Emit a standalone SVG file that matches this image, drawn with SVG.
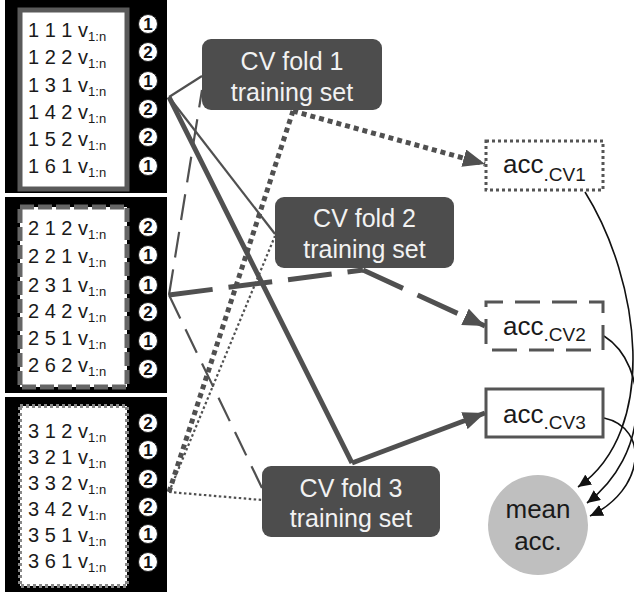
<svg xmlns="http://www.w3.org/2000/svg" width="634" height="592" viewBox="0 0 634 592">
<style>
.panel{fill:#000}
.row{font-family:"Liberation Sans",Arial,sans-serif;font-size:20px;fill:#1a1a1a}
.sub{font-size:13px}
.num circle{fill:#fff;stroke:#222;stroke-width:1}
.num text{font-family:"Liberation Sans",Arial,sans-serif;font-size:17px;font-weight:bold;fill:#111;text-anchor:middle}
.fold rect{fill:#4d4d4d}
.fold text{font-family:"Liberation Sans",Arial,sans-serif;font-size:25px;fill:#f2f2f2;text-anchor:middle}
.acc rect{fill:#fff;stroke:#555;stroke-width:3}
.acc text{font-family:"Liberation Sans",Arial,sans-serif;font-size:26px;fill:#1a1a1a}
.acc tspan{font-size:19px}
.c{fill:none;stroke:#505050;stroke-linecap:butt}
.thin{stroke-width:2.2}
.thick{stroke-width:5}
.curve{fill:none;stroke:#111;stroke-width:1.6}
</style>
<defs>
<marker id="big" markerUnits="userSpaceOnUse" markerWidth="24" markerHeight="18" refX="22" refY="9" orient="auto">
<path d="M0,0 L22,9 L0,18 Z" fill="#505050"/>
</marker>
<marker id="small" markerUnits="userSpaceOnUse" markerWidth="14" markerHeight="12" refX="13" refY="6" orient="auto">
<path d="M0,0 L13,6 L0,12 Z" fill="#111"/>
</marker>
</defs>

<g id="connectors">
<line class="c thin" x1="169" y1="97" x2="202" y2="76"/>
<line class="c thin" x1="169" y1="97" x2="275" y2="234"/>
<line class="c thin" x1="169" y1="295" x2="202" y2="90" stroke-dasharray="26 12"/>
<line class="c thin" x1="169" y1="295" x2="262" y2="488" stroke-dasharray="26 12"/>
<line class="c thin" x1="169" y1="492" x2="275" y2="236" stroke-dasharray="2.5 2.5"/>
<line class="c thin" x1="169" y1="492" x2="262" y2="500" stroke-dasharray="2.5 2.5"/>
<path class="c thick" d="M169,97 L352,463"/>
<path class="c thick" d="M352,463 L485,413" marker-end="url(#big)"/>
<path class="c thick" d="M169,492 L293,111" stroke-dasharray="5 4"/>
<path class="c thick" d="M293,111 L485,164" stroke-dasharray="5 4" marker-end="url(#big)"/>
<path class="c thick" d="M169,295 L363,270" stroke-dasharray="44 16"/>
<path class="c thick" d="M363,270 L485,326" stroke-dasharray="44 16" marker-end="url(#big)"/>
<path class="curve" d="M585,192 C640,280 660,430 578,487" marker-end="url(#small)"/>
<path class="curve" d="M604,336 C650,365 650,455 587,503" marker-end="url(#small)"/>
<path class="curve" d="M604,418 C650,428 645,490 590,516" marker-end="url(#small)"/>
</g>

<g id="panel1">
<rect class="panel" x="5" y="0" width="162" height="193"/>
<rect x="20" y="10" width="107" height="179" fill="#fff" stroke="#5a5a5a" stroke-width="5"/>
<text class="row" x="28" y="37">1 1 1 v<tspan class="sub" dy="4">1:n</tspan></text>
<text class="row" x="28" y="64">1 2 2 v<tspan class="sub" dy="4">1:n</tspan></text>
<text class="row" x="28" y="92">1 3 1 v<tspan class="sub" dy="4">1:n</tspan></text>
<text class="row" x="28" y="119">1 4 2 v<tspan class="sub" dy="4">1:n</tspan></text>
<text class="row" x="28" y="146">1 5 2 v<tspan class="sub" dy="4">1:n</tspan></text>
<text class="row" x="28" y="173">1 6 1 v<tspan class="sub" dy="4">1:n</tspan></text>
<g class="num">
<circle cx="148" cy="24" r="9.5"/><text x="148" y="30">1</text>
<circle cx="148" cy="52" r="9.5"/><text x="148" y="58">2</text>
<circle cx="148" cy="81" r="9.5"/><text x="148" y="87">1</text>
<circle cx="148" cy="109" r="9.5"/><text x="148" y="115">2</text>
<circle cx="148" cy="137" r="9.5"/><text x="148" y="143">2</text>
<circle cx="148" cy="166" r="9.5"/><text x="148" y="172">1</text>
</g>
</g>

<g id="panel2">
<rect class="panel" x="5" y="197" width="162" height="196"/>
<rect x="20" y="207" width="107" height="180" fill="#fff" stroke="#666" stroke-width="5" stroke-dasharray="14 4"/>
<text class="row" x="28" y="235">2 1 2 v<tspan class="sub" dy="4">1:n</tspan></text>
<text class="row" x="28" y="263">2 2 1 v<tspan class="sub" dy="4">1:n</tspan></text>
<text class="row" x="28" y="292">2 3 1 v<tspan class="sub" dy="4">1:n</tspan></text>
<text class="row" x="28" y="318">2 4 2 v<tspan class="sub" dy="4">1:n</tspan></text>
<text class="row" x="28" y="345">2 5 1 v<tspan class="sub" dy="4">1:n</tspan></text>
<text class="row" x="28" y="372">2 6 2 v<tspan class="sub" dy="4">1:n</tspan></text>
<g class="num">
<circle cx="148" cy="227" r="9.5"/><text x="148" y="233">2</text>
<circle cx="148" cy="255" r="9.5"/><text x="148" y="261">1</text>
<circle cx="148" cy="285" r="9.5"/><text x="148" y="291">1</text>
<circle cx="148" cy="312" r="9.5"/><text x="148" y="318">2</text>
<circle cx="148" cy="341" r="9.5"/><text x="148" y="347">1</text>
<circle cx="148" cy="369" r="9.5"/><text x="148" y="375">2</text>
</g>
</g>

<g id="panel3">
<rect class="panel" x="5" y="397" width="162" height="195"/>
<rect x="20" y="406" width="107" height="180" fill="#fff" stroke="#888" stroke-width="4" stroke-dasharray="3 3"/>
<text class="row" x="28" y="438">3 1 2 v<tspan class="sub" dy="4">1:n</tspan></text>
<text class="row" x="28" y="464">3 2 1 v<tspan class="sub" dy="4">1:n</tspan></text>
<text class="row" x="28" y="490">3 3 2 v<tspan class="sub" dy="4">1:n</tspan></text>
<text class="row" x="28" y="516">3 4 2 v<tspan class="sub" dy="4">1:n</tspan></text>
<text class="row" x="28" y="542">3 5 1 v<tspan class="sub" dy="4">1:n</tspan></text>
<text class="row" x="28" y="568">3 6 1 v<tspan class="sub" dy="4">1:n</tspan></text>
<g class="num">
<circle cx="148" cy="423" r="9.5"/><text x="148" y="429">2</text>
<circle cx="148" cy="450" r="9.5"/><text x="148" y="456">1</text>
<circle cx="148" cy="479" r="9.5"/><text x="148" y="485">2</text>
<circle cx="148" cy="507" r="9.5"/><text x="148" y="513">2</text>
<circle cx="148" cy="534" r="9.5"/><text x="148" y="540">1</text>
<circle cx="148" cy="562" r="9.5"/><text x="148" y="568">1</text>
</g>
</g>

<g id="fold1" class="fold">
<rect x="202" y="39" width="180" height="71" rx="9"/>
<text x="292" y="70">CV fold 1</text>
<text x="292" y="101">training set</text>
</g>
<g id="fold2" class="fold">
<rect x="275" y="197" width="179" height="71" rx="9"/>
<text x="364.5" y="227">CV fold 2</text>
<text x="364.5" y="258">training set</text>
</g>
<g id="fold3" class="fold">
<rect x="262" y="466" width="178" height="71" rx="9"/>
<text x="351" y="497">CV fold 3</text>
<text x="351" y="527">training set</text>
</g>

<g id="acc1" class="acc">
<rect x="486" y="141" width="117" height="49" stroke-dasharray="3 3"/>
<text x="503" y="173">acc<tspan dy="8">.CV1</tspan></text>
</g>
<g id="acc2" class="acc">
<rect x="486" y="302" width="117" height="48" stroke-dasharray="25 12" stroke-dashoffset="8"/>
<text x="503" y="335">acc<tspan dy="6">.CV2</tspan></text>
</g>
<g id="acc3" class="acc">
<rect x="486" y="389" width="117" height="48"/>
<text x="503" y="423">acc<tspan dy="6">.CV3</tspan></text>
</g>

<g id="mean">
<circle cx="538" cy="525" r="50" fill="#bfbfbf"/>
<text x="538" y="518" font-family="Liberation Sans, Arial, sans-serif" font-size="26" fill="#1a1a1a" text-anchor="middle">mean</text>
<text x="538" y="550" font-family="Liberation Sans, Arial, sans-serif" font-size="26" fill="#1a1a1a" text-anchor="middle">acc.</text>
</g>
</svg>
